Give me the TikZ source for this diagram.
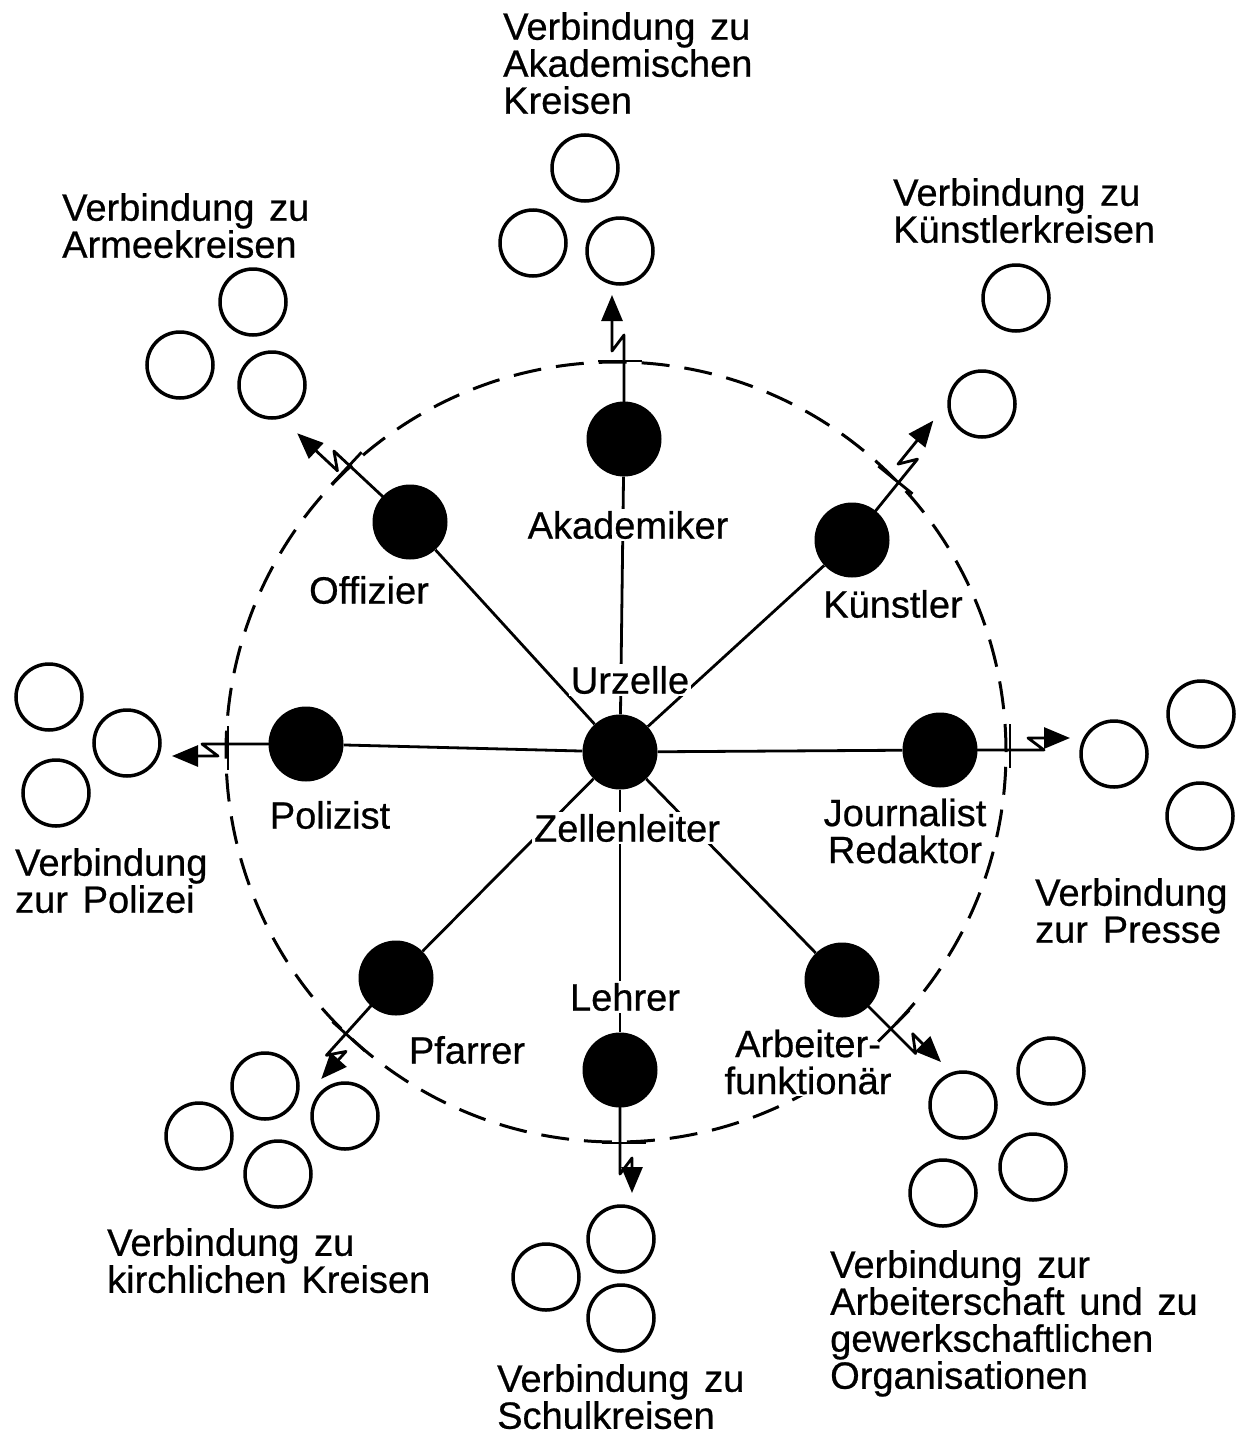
\documentclass[tikz,border=0pt]{standalone}
\usepackage{fontspec}
\setmainfont{Liberation Sans}[WordSpace=1.4, FakeBold=0.6]
\usetikzlibrary{arrows.meta}

% lightning connector: node, angle, distance of tick, distance of tip
\newcommand{\bolt}[4]{%
  \begin{scope}[shift={(#1.center)}, rotate=#2]
    \draw[link, line join=round, -{Triangle[length=26pt,width=21pt]}]
      (37,0) -- (104,0) -- (88,12) -- (#4,12);
    \draw[link] (#3,-18) -- (#3,26);
  \end{scope}}

\begin{document}
\begin{tikzpicture}[
  x=1pt, y=1pt,
  member/.style={circle, fill=black, minimum size=75pt, inner sep=0pt},
  contact/.style={circle, draw=black, line width=3.5pt, minimum size=66pt, inner sep=0pt},
  link/.style={line width=2.8pt},
  ring/.style={line width=3pt, dash pattern=on 28pt off 15pt},
  lbl/.style={fill=white, inner sep=2pt, align=center, font=\fontsize{38}{37}\selectfont},
  group/.style={anchor=north west, inner sep=0pt, align=left, font=\fontsize{38}{37}\selectfont},
]
  \useasboundingbox (0,0) rectangle (1245,-1437);

  \draw[ring] (616,-752) circle[radius=390pt];

  % the cell
  \node[member] (zl) at (620,-752) {};
  \node[member] (akad) at (624,-439) {};
  \node[member] (offz) at (410,-522) {};
  \node[member] (kuen) at (852,-540) {};
  \node[member] (poli) at (306,-744) {};
  \node[member] (jour) at (940,-750) {};
  \node[member] (pfar) at (396,-978) {};
  \node[member] (arbf) at (842,-980) {};
  \node[member] (lehr) at (620,-1070) {};

  \foreach \m in {akad, offz, kuen, poli, jour, pfar, arbf, lehr}
    \draw[link] (zl) -- (\m);

  \node[lbl] (lzl1) at (630,-680) {Urzelle};
  \node[lbl] (lzl2) at (627,-828) {Zellenleiter};
  \node[lbl] (lakad) at (628,-525) {Akademiker};
  \node[lbl] (loffz) at (369,-590) {Offizier};
  \node[lbl] (lkuen) at (893,-604) {Künstler};
  \node[lbl] (lpoli) at (330,-815) {Polizist};
  \node[lbl] (ljour) at (905,-831) {Journalist\\Redaktor};
  \node[lbl] (lpfar) at (467,-1050) {Pfarrer};
  \node[lbl] (llehr) at (625,-997) {Lehrer};
  \node[lbl] (larbf) at (808,-1062) {Arbeiter-\\funktionär};

  % outgoing connections
  \bolt{akad}{90}{78}{144}
  \bolt{offz}{137}{83}{143}
  \bolt{kuen}{51}{74}{144}
  \bolt{poli}{180}{78}{134}
  \bolt{jour}{0}{70}{130}
  \bolt{pfar}{228}{75}{125}
  \bolt{arbf}{-45}{69}{128}
  \bolt{lehr}{-90}{73}{123}

  % contact circles
  \node[contact] (ak1) at (585,-168) {};
  \node[contact] (ak2) at (533,-243) {};
  \node[contact] (ak3) at (620,-251) {};
  \node[contact] (ar1) at (253,-302) {};
  \node[contact] (ar2) at (180,-365) {};
  \node[contact] (ar3) at (272,-385) {};
  \node[contact] (ku1) at (1016,-298) {};
  \node[contact] (ku2) at (982,-404) {};
  \node[contact] (po1) at (49,-697) {};
  \node[contact] (po2) at (127,-743) {};
  \node[contact] (po3) at (56,-793) {};
  \node[contact] (pr1) at (1201,-714) {};
  \node[contact] (pr2) at (1114,-754) {};
  \node[contact] (pr3) at (1200,-816) {};
  \node[contact] (ki1) at (265,-1086) {};
  \node[contact] (ki2) at (345,-1116) {};
  \node[contact] (ki3) at (199,-1136) {};
  \node[contact] (ki4) at (278,-1174) {};
  \node[contact] (sc1) at (621,-1239) {};
  \node[contact] (sc2) at (546,-1277) {};
  \node[contact] (sc3) at (621,-1318) {};
  \node[contact] (ab1) at (963,-1105) {};
  \node[contact] (ab2) at (1051,-1071) {};
  \node[contact] (ab3) at (1033,-1167) {};
  \node[contact] (ab4) at (943,-1193) {};

  \node[group] (vakad) at (503,-12) {Verbindung zu\\Akademischen\\Kreisen};
  \node[group] (varme) at (62,-193) {Verbindung zu\\Armeekreisen};
  \node[group] (vkuen) at (893,-178) {Verbindung zu\\Künstlerkreisen};
  \node[group] (vpoli) at (15,-848) {Verbindung\\zur Polizei};
  \node[group] (vpres) at (1035,-878) {Verbindung\\zur Presse};
  \node[group] (vkirc) at (107,-1228) {Verbindung zu\\kirchlichen Kreisen};
  \node[group] (vschu) at (497,-1364) {Verbindung zu\\Schulkreisen};
  \node[group] (varbt) at (830,-1250) {Verbindung zur\\Arbeiterschaft und zu\\gewerkschaftlichen\\Organisationen};
\end{tikzpicture}
\end{document}
